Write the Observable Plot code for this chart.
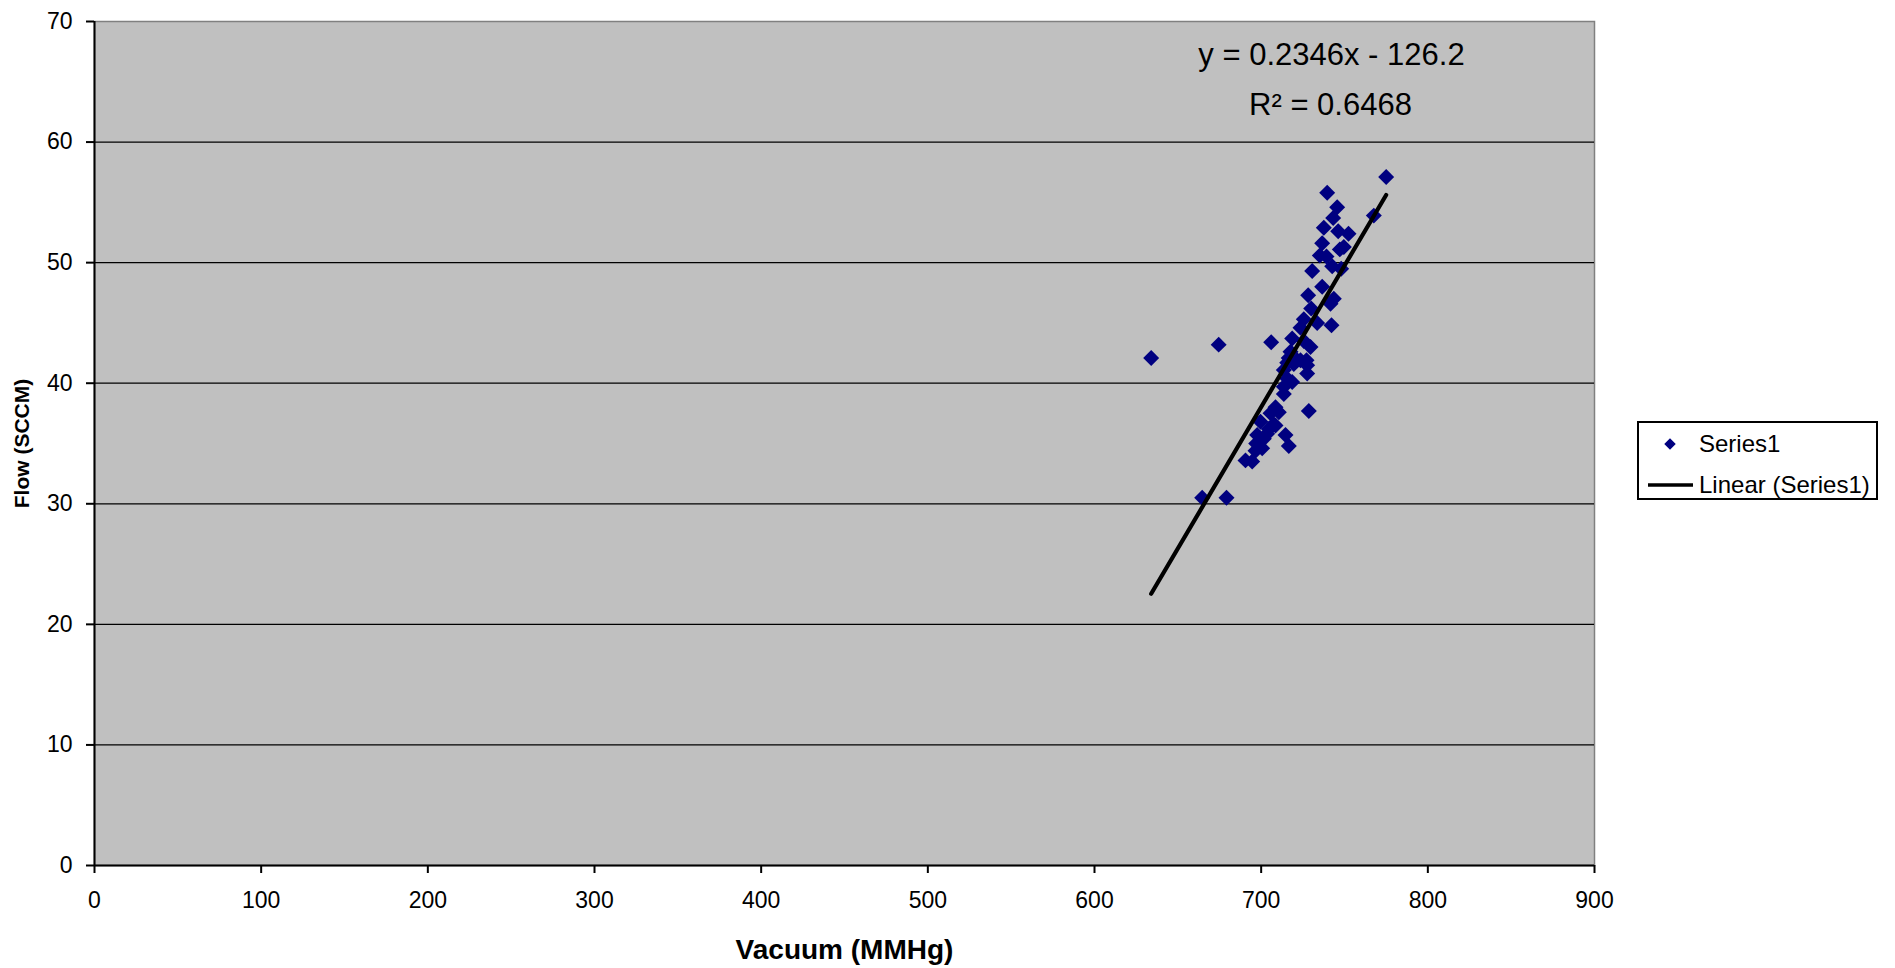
<!DOCTYPE html>
<html>
<head>
<meta charset="utf-8">
<script src="https://cdn.jsdelivr.net/npm/d3@7"></script>
<script src="https://cdn.jsdelivr.net/npm/@observablehq/plot@0.6"></script>
<style>
  html, body { margin: 0; padding: 0; background: #fff; }
  #wrap { position: relative; width: 1895px; height: 968px; font-family: "Liberation Sans", Arial, sans-serif; }
  #legend { position: absolute; left: 1637px; top: 421px; width: 237px; height: 75px; border: 2px solid #000; background: #fff; }
  #legend svg { display: block; }
</style>
</head>
<body>
<div id="wrap"></div>
<script>
// Data
const vacuum = [634, 674.5, 706, 664.6, 679.2, 775, 767.6, 739.6, 745.6, 743.2,
  737.6, 746.2, 752.4, 736.6, 747.2, 749.6, 735.2, 739.2, 742.6, 730.6,
  748, 736.6, 728.2, 743.6, 741.6, 730, 725.6, 733.6, 742.2, 723.6,
  718.6, 725.6, 729.6, 717.6, 721.6, 715.6, 727.2, 719.6, 727.6, 713.6,
  727.6, 715.6, 718.6, 713.6, 713.6, 728.6, 708.6, 710.6, 705.6, 699.6,
  707.6, 704.6, 697.6, 714.6, 701.6, 716.6, 697, 708.6, 703.6, 700.6,
  696.6, 690.6, 694.6, 723.6, 716.5];
const flow = [42.1, 43.2, 43.4, 30.5, 30.5, 57.1, 53.9, 55.8, 54.6, 53.7,
  52.9, 52.6, 52.4, 51.6, 51.1, 51.3, 50.6, 50.5, 49.7, 49.3,
  49.5, 48.0, 47.3, 47.0, 46.6, 46.2, 45.3, 45.0, 44.8, 44.6,
  43.7, 43.5, 43.0, 42.6, 41.9, 41.7, 41.9, 41.6, 41.5, 41.1,
  40.8, 40.4, 40.1, 39.7, 39.1, 37.7, 38.0, 37.6, 37.5, 36.8,
  36.6, 36.2, 35.7, 35.7, 35.4, 34.8, 35.0, 36.5, 35.8, 34.6,
  34.4, 33.6, 33.5, 41.9, 42.1];

// Trendline as labelled on the chart
const trendSlope = 0.2346;
const trendIntercept = -126.2;
const trendLabels = ["y = 0.2346x - 126.2", "R² = 0.6468"];

const xTicks = [0, 100, 200, 300, 400, 500, 600, 700, 800, 900];
const yTicks = [0, 10, 20, 30, 40, 50, 60, 70];
const xLabel = "Vacuum (MMHg)";
const yLabel = "Flow (SCCM)";
const seriesName = "Series1";
const trendName = "Linear (Series1)";

const points = vacuum.map((v, i) => ({x: v, y: flow[i]}));
const [xMin, xMax] = d3.extent(vacuum);
const trend = [xMin, xMax].map(x => ({x, y: trendSlope * x + trendIntercept}));

const navy = "#000080";

const chart = Plot.plot({
  width: 1895,
  height: 968,
  marginLeft: 94,
  marginRight: 301,
  marginTop: 21,
  marginBottom: 103,
  style: {fontFamily: "Liberation Sans, Arial, sans-serif", background: "transparent", color: "#000"},
  x: {domain: [0, 900], ticks: xTicks},
  y: {domain: [0, 70], ticks: yTicks},
  marks: [
    Plot.frame({fill: "#C0C0C0", stroke: "#808080", strokeWidth: 1.5}),
    Plot.gridY(yTicks.filter(t => t > 0 && t < 70), {stroke: "#000", strokeOpacity: 1, strokeWidth: 1.2}),
    Plot.ruleX([0], {stroke: "#000", strokeWidth: 2}),
    Plot.ruleY([0], {stroke: "#000", strokeWidth: 2}),
    Plot.axisX(xTicks, {tickSize: 8, tickPadding: 18, fontSize: 23, strokeWidth: 2, label: null}),
    Plot.axisY(yTicks, {tickSize: 8, tickPadding: 14, fontSize: 23, strokeWidth: 2, label: null}),
    Plot.dot(points, {x: "x", y: "y", symbol: "diamond2", r: 7.2, fill: navy, stroke: "none"}),
    Plot.line(trend, {x: "x", y: "y", stroke: "#000", strokeWidth: 4.2}),
    Plot.text([trendLabels[0]], {frameAnchor: "top-right", dx: -263, dy: 34, text: d => d, textAnchor: "middle", lineAnchor: "middle", fontSize: 31, fill: "#000"}),
    Plot.text([trendLabels[1]], {frameAnchor: "top-right", dx: -264, dy: 84, text: d => d, textAnchor: "middle", lineAnchor: "middle", fontSize: 31, fill: "#000"}),
    Plot.text([xLabel], {frameAnchor: "bottom", dy: 85, text: d => d, textAnchor: "middle", lineAnchor: "middle", fontSize: 28, fontWeight: "bold", fill: "#000"}),
    Plot.text([yLabel], {frameAnchor: "left", dx: -72, rotate: -90, text: d => d, textAnchor: "middle", lineAnchor: "middle", fontSize: 21, fontWeight: "bold", fill: "#000"})
  ]
});

const wrap = document.getElementById("wrap");
wrap.appendChild(chart);

// Legend (right side)
const legend = document.createElement("div");
legend.id = "legend";
wrap.appendChild(legend);
const ls = d3.select(legend).append("svg").attr("width", 237).attr("height", 75);
ls.append("path")
  .attr("d", d3.symbol(d3.symbolDiamond2, 85)())
  .attr("transform", "translate(31,21)")
  .attr("fill", navy);
ls.append("text").attr("x", 60).attr("y", 21).attr("dy", "0.35em")
  .attr("font-size", 24).attr("font-family", "Liberation Sans, Arial, sans-serif").text(seriesName);
ls.append("line").attr("x1", 9).attr("x2", 54).attr("y1", 62).attr("y2", 62)
  .attr("stroke", "#000").attr("stroke-width", 3.5);
ls.append("text").attr("x", 60).attr("y", 62).attr("dy", "0.35em")
  .attr("font-size", 24).attr("font-family", "Liberation Sans, Arial, sans-serif").text(trendName);
</script>
</body>
</html>
